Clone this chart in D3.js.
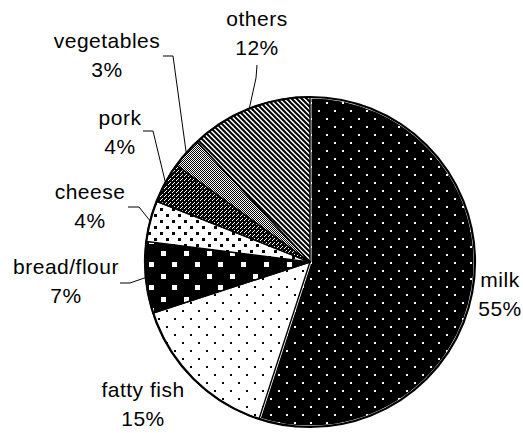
<!DOCTYPE html>
<html>
<head>
<meta charset="utf-8">
<script src="https://cdn.jsdelivr.net/npm/d3@7"></script>
<style>
  html, body { margin: 0; padding: 0; background: #fff; }
  svg { display: block; }
  text { font-family: "Liberation Sans", Arial, sans-serif; font-size: 21px; letter-spacing: 0.5px; fill: #000; }
</style>
</head>
<body>
<svg id="chart" width="523" height="433"></svg>
<script>
// Share of intake by food source (%), clockwise from 12 o'clock
const categories = ["milk", "fatty fish", "bread/flour", "cheese", "pork", "vegetables", "others"];
const shares = [55, 15, 7, 4, 4, 3, 12];

// Label anchor (centre of first text line) and leader elbow for each slice
const labelLayout = {
  "milk":        { x: 500, y: 280, elbow: null },
  "fatty fish":  { x: 143, y: 390, elbow: null },
  "bread/flour": { x: 66,  y: 267, start: [120, 283], elbow: [130, 283] },
  "cheese":      { x: 90,  y: 192, start: [128, 207], elbow: [139, 207] },
  "pork":        { x: 120, y: 118, start: [143, 131], elbow: [153, 131] },
  "vegetables":  { x: 107, y: 41,  start: [163, 56],  elbow: [173, 56] },
  "others":      { x: 257, y: 19,  start: [257, 65],  elbow: [256, 78] }
};

const width = 523, height = 433;
const cx = 310, cy = 262, radius = 165;
const lineGap = 29;

const svg = d3.select("#chart");
const defs = svg.append("defs");

// Fill patterns, one per slice
function pattern(id, w, h, bg, draw) {
  const p = defs.append("pattern")
    .attr("id", id).attr("patternUnits", "userSpaceOnUse")
    .attr("width", w).attr("height", h);
  p.append("rect").attr("width", w).attr("height", h).attr("fill", bg);
  const g = p.append("g").attr("shape-rendering", "crispEdges");
  draw(g);
  return p;
}
function dots(g, pts, size, color) {
  pts.forEach(([x, y]) => g.append("rect").attr("x", x).attr("y", y)
    .attr("width", size).attr("height", size).attr("fill", color));
}

pattern("p-milk", 16, 16, "#000", g => dots(g, [[0, 0], [8, 8]], 2, "#fff"));
pattern("p-fish", 16, 16, "#fff", g => dots(g, [[0, 0], [8, 8]], 2, "#000"));
pattern("p-bread", 23, 23, "#000", g => dots(g, [[0, 0], [11.5, 11.5]], 5, "#fff"));
pattern("p-cheese", 12, 12, "#fff", g => dots(g, [[0, 0], [6, 6]], 3, "#000"));
pattern("p-pork", 4, 4, "#000", g => dots(g, [[0, 0], [2, 2], [3, 1]], 1, "#fff"));
pattern("p-veg", 2, 2, "#fff", g => dots(g, [[0, 0], [1, 1]], 1, "#000"));
(function () {
  const p = defs.append("pattern")
    .attr("id", "p-others").attr("patternUnits", "userSpaceOnUse")
    .attr("width", 5).attr("height", 5);
  p.append("rect").attr("width", 5).attr("height", 5).attr("fill", "#fff");
  p.append("path").attr("d", "M-1,-1L6,6M-1,4L1,6M4,-1L6,1")
    .attr("stroke", "#000").attr("stroke-width", 2);
})();

const fills = d3.scaleOrdinal()
  .domain(categories)
  .range(["p-milk", "p-fish", "p-bread", "p-cheese", "p-pork", "p-veg", "p-others"]);

const data = categories.map((c, i) => ({ name: c, value: shares[i] }));
const total = d3.sum(shares);

const pie = d3.pie().value(d => d.value).sort(null);
const arcs = pie(data);
const arc = d3.arc().innerRadius(0).outerRadius(radius);

const g = svg.append("g").attr("transform", `translate(${cx},${cy})`);

// Slices: the dark slice gets a light edge, the others a black one
g.selectAll("path.slice")
  .data(arcs)
  .join("path")
  .attr("class", "slice")
  .attr("d", arc)
  .attr("fill", d => `url(#${fills(d.data.name)})`)
  .attr("stroke", d => d.index === 0 ? "#fff" : "#000")
  .attr("stroke-width", d => d.index === 0 ? 3 : 1.4)
  .attr("stroke-linejoin", "round");

// Outer rim
g.append("circle").attr("r", radius)
  .attr("fill", "none").attr("stroke", "#000").attr("stroke-width", 2.2);

// Leader lines from the label to the rim at the slice's mid-angle
const rimPoint = d => {
  const a = (d.startAngle + d.endAngle) / 2;
  return [cx + radius * Math.sin(a), cy - radius * Math.cos(a)];
};
svg.append("g").selectAll("path")
  .data(arcs.filter(d => labelLayout[d.data.name].elbow))
  .join("path")
  .attr("d", d => {
    const L = labelLayout[d.data.name];
    return d3.line()([L.start, L.elbow, rimPoint(d)]);
  })
  .attr("fill", "none").attr("stroke", "#000").attr("stroke-width", 1);

// Two-line labels: name and share
const fmt = v => `${Math.round(v / total * 100)}%`;
const labels = svg.append("g").selectAll("text")
  .data(arcs)
  .join("text")
  .attr("text-anchor", "middle")
  .attr("x", d => labelLayout[d.data.name].x)
  .attr("y", d => labelLayout[d.data.name].y);
labels.append("tspan")
  .attr("x", d => labelLayout[d.data.name].x)
  .attr("dy", "0.35em")
  .text(d => d.data.name);
labels.append("tspan")
  .attr("x", d => labelLayout[d.data.name].x)
  .attr("dy", lineGap)
  .text(d => fmt(d.data.value));
</script>
</body>
</html>
